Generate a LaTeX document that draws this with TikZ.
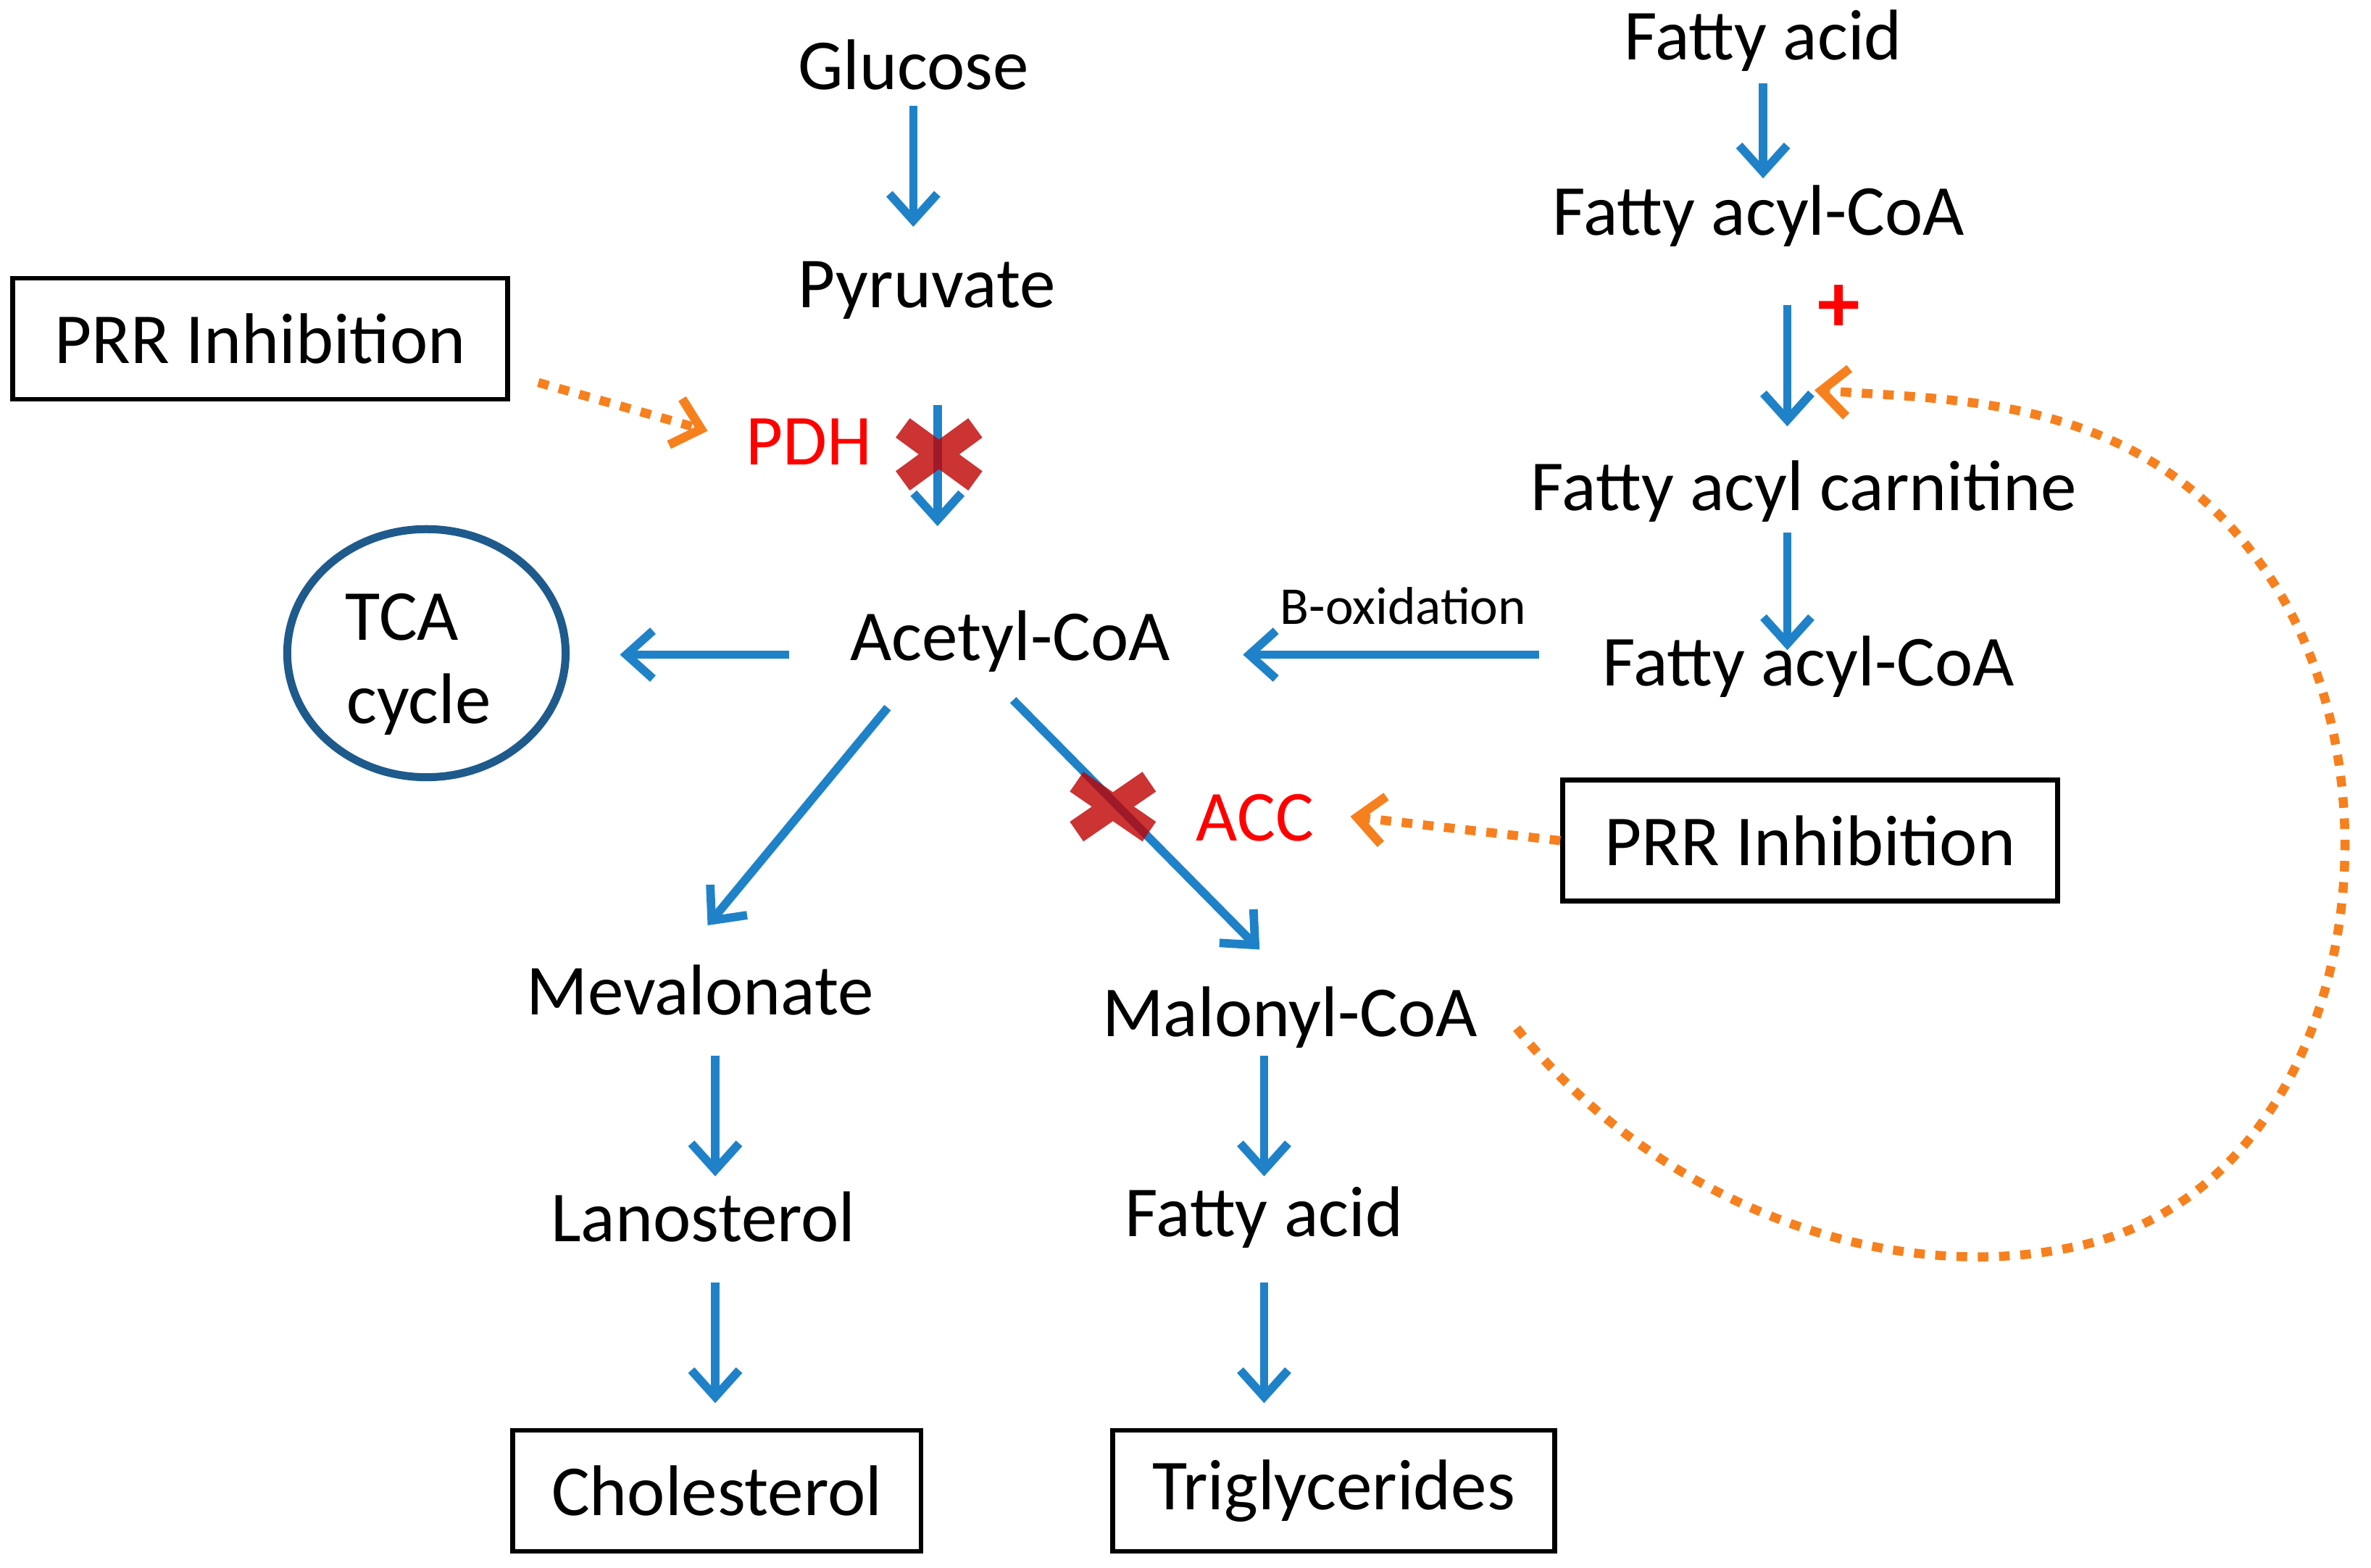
\documentclass[tikz,border=0pt]{standalone}
\usepackage{fontspec}
\setmainfont{Carlito}
\usetikzlibrary{arrows.meta,shapes.geometric}
\definecolor{fblue}{RGB}{31,130,200}
\definecolor{forange}{RGB}{247,128,30}
\definecolor{cblue}{RGB}{30,90,140}
\begin{document}
\begin{tikzpicture}[x=0.01cm,y=-0.01cm,
 lbl/.style={font=\fontsize{13.5}{15}\selectfont,inner sep=1pt},
 red/.style={lbl,text=red},
 box/.style={lbl,draw,line width=0.9pt,minimum height=0.8cm,inner xsep=2pt},
 ar/.style={draw=fblue,line width=1.6pt,-{Straight Barb[length=5pt,width=9pt]}},
 inh/.style={draw=forange,line width=1.7pt,dash pattern=on 2pt off 2pt,-{Straight Barb[length=5pt,width=9pt]}},
 xmark/.style={draw=red!75!black,opacity=0.8,line width=4.5pt}]
\useasboundingbox (0,0) rectangle (1568,1037);
\node[lbl] (glu) at (604,43) {Glucose};
\node[lbl] (pyr) at (613,192) {Pyruvate};
\node[red] (pdh) at (535,292) {PDH};
\node[lbl] (ac) at (668,424) {Acetyl-CoA};
\node[draw=cblue,line width=1.5pt,ellipse,minimum width=1.84cm,minimum height=1.64cm] (tca) at (282,432) {};
\node[lbl] (tca1) at (266,408) {TCA};
\node[lbl] (tca2) at (277,466) {cycle};
\node[lbl] (mev) at (463,655) {Mevalonate};
\node[lbl] (lan) at (465,805) {Lanosterol};
\node[box,minimum width=2.7cm] (chol) at (474,986) {Cholesterol};
\node[lbl] (mal) at (853,673) {Malonyl-CoA};
\node[lbl] (fa2) at (836,805) {Fatty acid};
\node[box,minimum width=2.92cm] (tg) at (882,986) {Triglycerides};
\node[red] (acc) at (830,541) {ACC};
\node[box,minimum width=3.27cm] (prr1) at (172,224) {PRR Inhibition};
\node[box,minimum width=3.27cm] (prr2) at (1197,556) {PRR Inhibition};
\node[lbl] (fa1) at (1166,27) {Fatty acid};
\node[lbl] (fac1) at (1163,143) {Fatty acyl-CoA};
\node[text=red,font=\bfseries\fontsize{16}{16}\selectfont] (plus) at (1216,204) {+};
\node[lbl] (carn) at (1193,325) {Fatty acyl carnitine};
\node[lbl] (fac2) at (1196,441) {Fatty acyl-CoA};
\node[font=\fontsize{10}{11}\selectfont] (box2) at (928,401) {B-oxidation};
% arrows
\draw[ar] (604,70) -- (604,150);
\draw[ar] (620,268) -- (620,348);
\draw[ar] (522,433) -- (410,433);
\draw[ar] (587,468) -- (468,612);
\draw[ar] (670,463) -- (833,628);
\draw[ar] (473,698) -- (473,778);
\draw[ar] (473,848) -- (473,928);
\draw[ar] (836,698) -- (836,778);
\draw[ar] (836,848) -- (836,928);
\draw[ar] (1166,55) -- (1166,118);
\draw[ar] (1182,202) -- (1182,282);
\draw[ar] (1182,352) -- (1182,430);
\draw[ar] (1018,433) -- (822,433);
% crosses
\draw[xmark] (597,283) -- (645,318) (597,318) -- (645,283);
\draw[xmark] (712,517) -- (760,550) (712,550) -- (760,517);
% inhibition
\coordinate (p1) at (356,253);
\draw[inh] (p1) -- (468,285);
\draw[inh] (prr2.west) -- (893,540);
\draw[inh] (1003,680) .. controls (1100,800) and (1250,850) .. (1370,825)
 .. controls (1550,790) and (1600,530) .. (1500,380)
 .. controls (1420,262) and (1300,265) .. (1200,258);
\end{tikzpicture}
\end{document}
